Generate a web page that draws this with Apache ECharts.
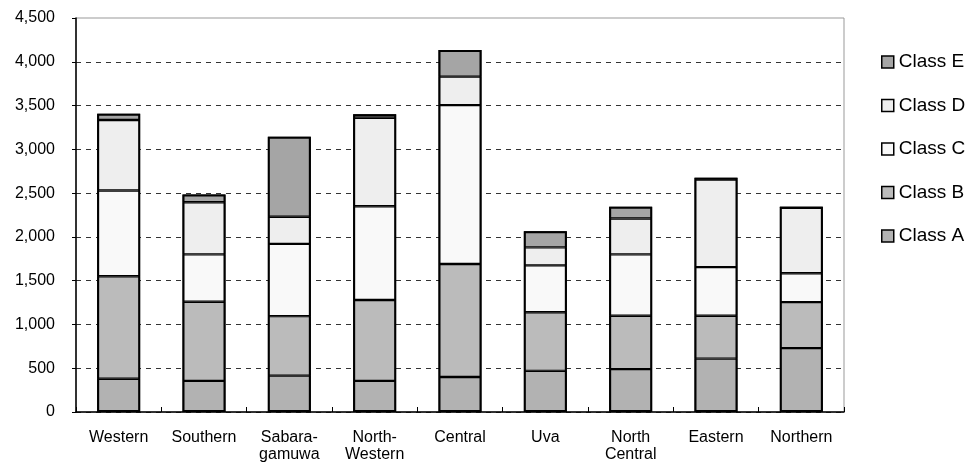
<!DOCTYPE html>
<html>
<head>
<meta charset="utf-8">
<script src="https://cdn.jsdelivr.net/npm/echarts@6/dist/echarts.min.js"></script>
<style>
  html, body { margin: 0; padding: 0; background: #fff; }
  #chart { width: 969px; height: 464px; }
</style>
</head>
<body>
<div id="chart"></div>
<script>
// Provinces along the category axis
var categories = ['Western', 'Southern', 'Sabara-\ngamuwa', 'North-\nWestern', 'Central', 'Uva', 'North\nCentral', 'Eastern', 'Northern'];

// Stacked values per class
var classA = [380, 355, 415, 355, 400, 470, 490, 610, 730];
var classB = [1170, 905, 680, 925, 1290, 670, 610, 490, 525];
var classC = [980, 540, 825, 1070, 1815, 535, 700, 555, 330];
var classD = [805, 595, 310, 1010, 325, 205, 410, 1000, 755];
var classE = [70, 90, 915, 40, 305, 185, 135, 20, 0];

// Value axis ticks
var yTicks = [0, 500, 1000, 1500, 2000, 2500, 3000, 3500, 4000, 4500];

var seriesNames = ['Class A', 'Class B', 'Class C', 'Class D', 'Class E'];
var seriesData = [classA, classB, classC, classD, classE];
var fills = ['#b2b2b2', '#bbbbbb', '#f9f9f9', '#eeeeee', '#a5a5a5'];

// column totals, used for the outer outline of each stack
var totals = categories.map(function (c, j) {
  return seriesData.reduce(function (s, arr) { return s + arr[j]; }, 0);
});

var chart = echarts.init(document.getElementById('chart'), null, { renderer: 'canvas' });

// dashed grid lines, with the top one left to the plot frame
var gridColors = yTicks.map(function (v, i) {
  return i === yTicks.length - 1 ? 'rgba(0,0,0,0)' : '#333';
});

var series = seriesNames.map(function (name, i) {
  return {
    name: name,
    type: 'bar',
    stack: 'total',
    barWidth: 43,
    barGap: '-100%',
    data: seriesData[i],
    itemStyle: { color: fills[i], borderColor: '#000', borderWidth: 1.2 },
    emphasis: { disabled: true }
  };
});

series.push({
  name: 'outline',
  type: 'bar',
  barWidth: 43,
  barGap: '-100%',
  z: 3,
  data: totals,
  itemStyle: { color: 'rgba(0,0,0,0)', borderColor: '#000', borderWidth: 2 },
  emphasis: { disabled: true },
  silent: true
});

chart.setOption({
  animation: false,
  textStyle: { fontFamily: 'Liberation Sans, Arial, sans-serif', color: '#000' },
  grid: {
    left: 76, top: 18, right: 125, bottom: 52,
    show: true, borderColor: '#999', borderWidth: 1, backgroundColor: 'transparent'
  },
  legend: {
    orient: 'vertical',
    left: 876,
    top: 47,
    itemWidth: 12,
    itemHeight: 12,
    itemGap: 23.5,
    icon: 'rect',
    data: seriesNames.slice().reverse(),
    textStyle: { fontSize: 19, lineHeight: 20, color: '#000' },
    itemStyle: { borderColor: '#000', borderWidth: 1.5 }
  },
  xAxis: {
    type: 'category',
    data: categories,
    axisLine: { lineStyle: { color: '#000', width: 1.5 } },
    axisTick: { show: true, inside: true, length: 5, alignWithLabel: false, interval: 0, lineStyle: { color: '#000' } },
    axisLabel: { interval: 0, fontSize: 16, color: '#000', margin: 17, lineHeight: 17 },
    splitLine: { show: false }
  },
  yAxis: {
    type: 'value',
    min: 0,
    max: 4500,
    interval: 500,
    axisLine: { show: true, lineStyle: { color: '#000', width: 1.5 } },
    axisTick: { show: true, inside: false, length: 4, lineStyle: { color: '#000' } },
    axisLabel: {
      fontSize: 16, color: '#000', margin: 21,
      formatter: function (v) { return v.toLocaleString('en-US'); }
    },
    splitLine: { show: true, lineStyle: { color: gridColors, type: [5, 5], width: 1 } }
  },
  series: series
});
</script>
</body>
</html>
